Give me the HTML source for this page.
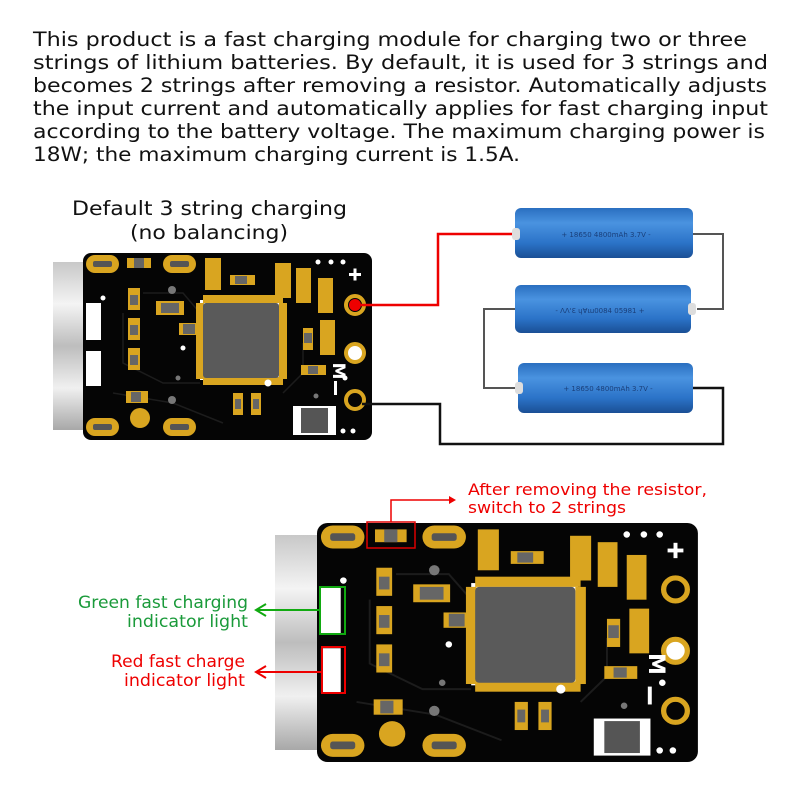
<!DOCTYPE html>
<html><head><meta charset="utf-8"><style>
html,body{margin:0;padding:0;background:#fff;}
svg{display:block;font-family:"DejaVu Sans","Liberation Sans",sans-serif;}
</style></head><body>
<svg width="800" height="800" viewBox="0 0 800 800" xmlns="http://www.w3.org/2000/svg">
<defs>
<linearGradient id="conn" x1="0" y1="0" x2="0" y2="1">
<stop offset="0" stop-color="#c8c8c8"/><stop offset="0.25" stop-color="#f4f4f4"/><stop offset="0.5" stop-color="#bdbdbd"/><stop offset="0.75" stop-color="#f0f0f0"/><stop offset="1" stop-color="#a8a8a8"/>
</linearGradient>
<linearGradient id="bat" x1="0" y1="0" x2="0" y2="1">
<stop offset="0" stop-color="#2a6fc0"/><stop offset="0.3" stop-color="#4a93e0"/><stop offset="0.7" stop-color="#2b73c8"/><stop offset="1" stop-color="#1a4f95"/>
</linearGradient>
<g id="pcb">
<rect x="0" y="0" width="289" height="187" rx="8" fill="#050505"/>
<g fill="none" stroke="#1c1c1c" stroke-width="1.5">
<path d="M40 60 L40 110 L80 130 L117 130"/><path d="M60 40 L100 40 L117 60"/><path d="M30 140 L90 150 L140 170"/><path d="M200 140 L220 120 L220 90"/>
</g>
<g fill="#d9a520">
<rect x="3" y="2" width="33" height="18" rx="9"/><rect x="80" y="2" width="33" height="18" rx="9"/>
<rect x="3" y="165" width="33" height="18" rx="9"/><rect x="80" y="165" width="33" height="18" rx="9"/>
</g>
<g fill="#555"><rect x="10" y="8" width="19" height="6" rx="2"/><rect x="87" y="8" width="19" height="6" rx="2"/><rect x="10" y="171" width="19" height="6" rx="2"/><rect x="87" y="171" width="19" height="6" rx="2"/></g>
<g fill="#d9a520">
<rect x="122" y="5" width="16" height="32"/><rect x="192" y="10" width="16" height="35"/><rect x="213" y="15" width="15" height="35"/><rect x="235" y="25" width="15" height="35"/><rect x="237" y="67" width="15" height="35"/>
<rect x="147" y="22" width="25" height="10"/><rect x="220" y="75" width="10" height="22"/><rect x="218" y="112" width="25" height="10"/>
<rect x="45" y="35" width="12" height="22"/><rect x="45" y="65" width="12" height="22"/><rect x="45" y="95" width="12" height="22"/><rect x="43" y="138" width="22" height="12"/>
<rect x="73" y="48" width="28" height="14"/><rect x="96" y="70" width="22" height="12"/><rect x="150" y="140" width="10" height="22"/><rect x="168" y="140" width="10" height="22"/>
<rect x="44" y="5" width="24" height="10"/>
<circle cx="57" cy="165" r="10"/>
</g>
<g fill="#666">
<rect x="78" y="50" width="18" height="10"/><rect x="100" y="71" width="12" height="10"/><rect x="47" y="42" width="8" height="10"/><rect x="47" y="72" width="8" height="10"/><rect x="47" y="102" width="8" height="10"/><rect x="48" y="139" width="10" height="10"/><rect x="152" y="146" width="6" height="10"/><rect x="170" y="146" width="6" height="10"/><rect x="51" y="5" width="10" height="10"/><rect x="152" y="23" width="12" height="8"/><rect x="221" y="80" width="8" height="10"/><rect x="225" y="113" width="10" height="8"/>
</g>
<g fill="#fff"><rect x="3" y="50" width="15" height="37"/><rect x="3" y="98" width="15" height="35"/></g>
<rect x="210" y="153" width="43" height="29" fill="#fff"/><rect x="218" y="155" width="27" height="25" fill="#555"/>
<rect x="117" y="47" width="81" height="80" fill="#fff"/>
<g fill="#d9a520">
<rect x="120" y="42" width="80" height="8"/><rect x="120" y="124" width="80" height="8"/><rect x="113" y="50" width="8" height="76"/><rect x="196" y="50" width="8" height="76"/>
</g>
<rect x="120" y="50" width="76" height="75" rx="3" fill="#5a5a5a"/>
<g fill="#d9a520" stroke="#d9a520" stroke-width="4"><circle cx="272" cy="52" r="9" fill="none"/><circle cx="272" cy="100" r="9" fill="#fff"/><circle cx="272" cy="147" r="9" fill="none"/></g>
<g fill="#fff"><circle cx="235" cy="9" r="2.5"/><circle cx="248" cy="9" r="2.5"/><circle cx="260" cy="9" r="2.5"/><circle cx="20" cy="45" r="2.5"/><circle cx="100" cy="95" r="2.5"/><circle cx="185" cy="130" r="3.5"/><circle cx="270" cy="178" r="2.5"/><circle cx="260" cy="178" r="2.5"/><circle cx="262" cy="125" r="2.5"/></g>
<g fill="#777"><circle cx="89" cy="37" r="4"/><circle cx="89" cy="147" r="4"/><circle cx="95" cy="125" r="2.5"/><circle cx="233" cy="143" r="2.5"/></g>
<g fill="#fff"><rect x="266" y="20" width="12" height="3"/><rect x="270.5" y="15.5" width="3" height="12"/><rect x="251" y="128" width="3" height="14"/></g>
</g>
</defs>

<g font-size="19.5" fill="#111">
<text x="33" y="46" textLength="714" lengthAdjust="spacingAndGlyphs">This product is a fast charging module for charging two or three</text>
<text x="33" y="69" textLength="735" lengthAdjust="spacingAndGlyphs">strings of lithium batteries. By default, it is used for 3 strings and</text>
<text x="33" y="92" textLength="734" lengthAdjust="spacingAndGlyphs">becomes 2 strings after removing a resistor. Automatically adjusts</text>
<text x="33" y="115" textLength="735" lengthAdjust="spacingAndGlyphs">the input current and automatically applies for fast charging input</text>
<text x="33" y="138" textLength="732" lengthAdjust="spacingAndGlyphs">according to the battery voltage. The maximum charging power is</text>
<text x="33" y="161" textLength="487" lengthAdjust="spacingAndGlyphs">18W; the maximum charging current is 1.5A.</text>
<text x="72" y="215" textLength="275" lengthAdjust="spacingAndGlyphs">Default 3 string charging</text>
<text x="130" y="239" textLength="158" lengthAdjust="spacingAndGlyphs">(no balancing)</text>
</g>

<rect x="53" y="262" width="32" height="168" fill="url(#conn)"/>
<use href="#pcb" transform="translate(83,253)"/>
<circle cx="355" cy="305" r="6" fill="#e00"/>
<text x="333" y="371" font-size="17" fill="#fff" font-weight="bold" transform="rotate(90 333 371)" text-anchor="middle">M</text>

<polyline points="361,305 438,305 438,234 515,234" fill="none" stroke="#e00" stroke-width="2.5"/>
<polyline points="362,404 440,404 440,444 723,444 723,388 693,388" fill="none" stroke="#111" stroke-width="2.5"/>
<polyline points="693,234 723,234 723,309 697,309" fill="none" stroke="#555" stroke-width="2"/>
<polyline points="515,309 484,309 484,388 518,388" fill="none" stroke="#555" stroke-width="2"/>

<g>
<rect x="515" y="208" width="178" height="50" rx="6" fill="url(#bat)"/><rect x="512" y="228" width="8" height="12" rx="3" fill="#ddd"/>
<text x="606" y="237" font-size="7" fill="#1a3f7a" text-anchor="middle">+   18650 4800mAh 3.7V  -</text>
<rect x="515" y="285" width="176" height="48" rx="6" fill="url(#bat)"/><rect x="688" y="303" width="8" height="12" rx="3" fill="#ddd"/>
<text x="600" y="313" font-size="7" fill="#1a3f7a" text-anchor="middle">-  ΛΛ'Ɛ  ɥⱯɯ0084  05981   +</text>
<rect x="518" y="363" width="175" height="50" rx="6" fill="url(#bat)"/><rect x="515" y="382" width="8" height="12" rx="3" fill="#ddd"/>
<text x="608" y="391" font-size="7" fill="#1a3f7a" text-anchor="middle">+   18650 4800mAh 3.7V  -</text>
</g>

<rect x="275" y="535" width="44" height="215" fill="url(#conn)"/>
<use href="#pcb" transform="translate(317,523) scale(1.318,1.278)"/>
<text x="649" y="664" font-size="22" fill="#fff" font-weight="bold" transform="rotate(90 649 664)" text-anchor="middle">M</text>

<rect x="367" y="522" width="48" height="26" fill="none" stroke="#d00" stroke-width="1.5"/>
<polyline points="391,522 391,500 452,500" fill="none" stroke="#e00" stroke-width="1.5"/>
<polygon points="456,500 449,496 449,504" fill="#e00"/>
<g font-size="16" fill="#e00">
<text x="468" y="495" textLength="239" lengthAdjust="spacingAndGlyphs">After removing the resistor,</text>
<text x="468" y="513" textLength="158" lengthAdjust="spacingAndGlyphs">switch to 2 strings</text>
</g>
<rect x="320" y="587" width="25" height="47" fill="none" stroke="#1a1" stroke-width="2"/>
<line x1="320" y1="610" x2="258" y2="610" stroke="#1a1" stroke-width="2"/>
<polyline points="266,604 256,610 266,616" fill="none" stroke="#1a1" stroke-width="2"/>
<rect x="322" y="647" width="23" height="46" fill="none" stroke="#e00" stroke-width="2"/>
<line x1="322" y1="672" x2="258" y2="672" stroke="#e00" stroke-width="2"/>
<polyline points="266,666 256,672 266,678" fill="none" stroke="#e00" stroke-width="2"/>
<g font-size="17" text-anchor="end">
<text x="248" y="608" fill="#1a9a3a" textLength="170" lengthAdjust="spacingAndGlyphs">Green fast charging</text>
<text x="248" y="627" fill="#1a9a3a" textLength="121" lengthAdjust="spacingAndGlyphs">indicator light</text>
<text x="245" y="667" fill="#e00" textLength="134" lengthAdjust="spacingAndGlyphs">Red fast charge</text>
<text x="245" y="686" fill="#e00" textLength="121" lengthAdjust="spacingAndGlyphs">indicator light</text>
</g>
</svg>
</body></html>
